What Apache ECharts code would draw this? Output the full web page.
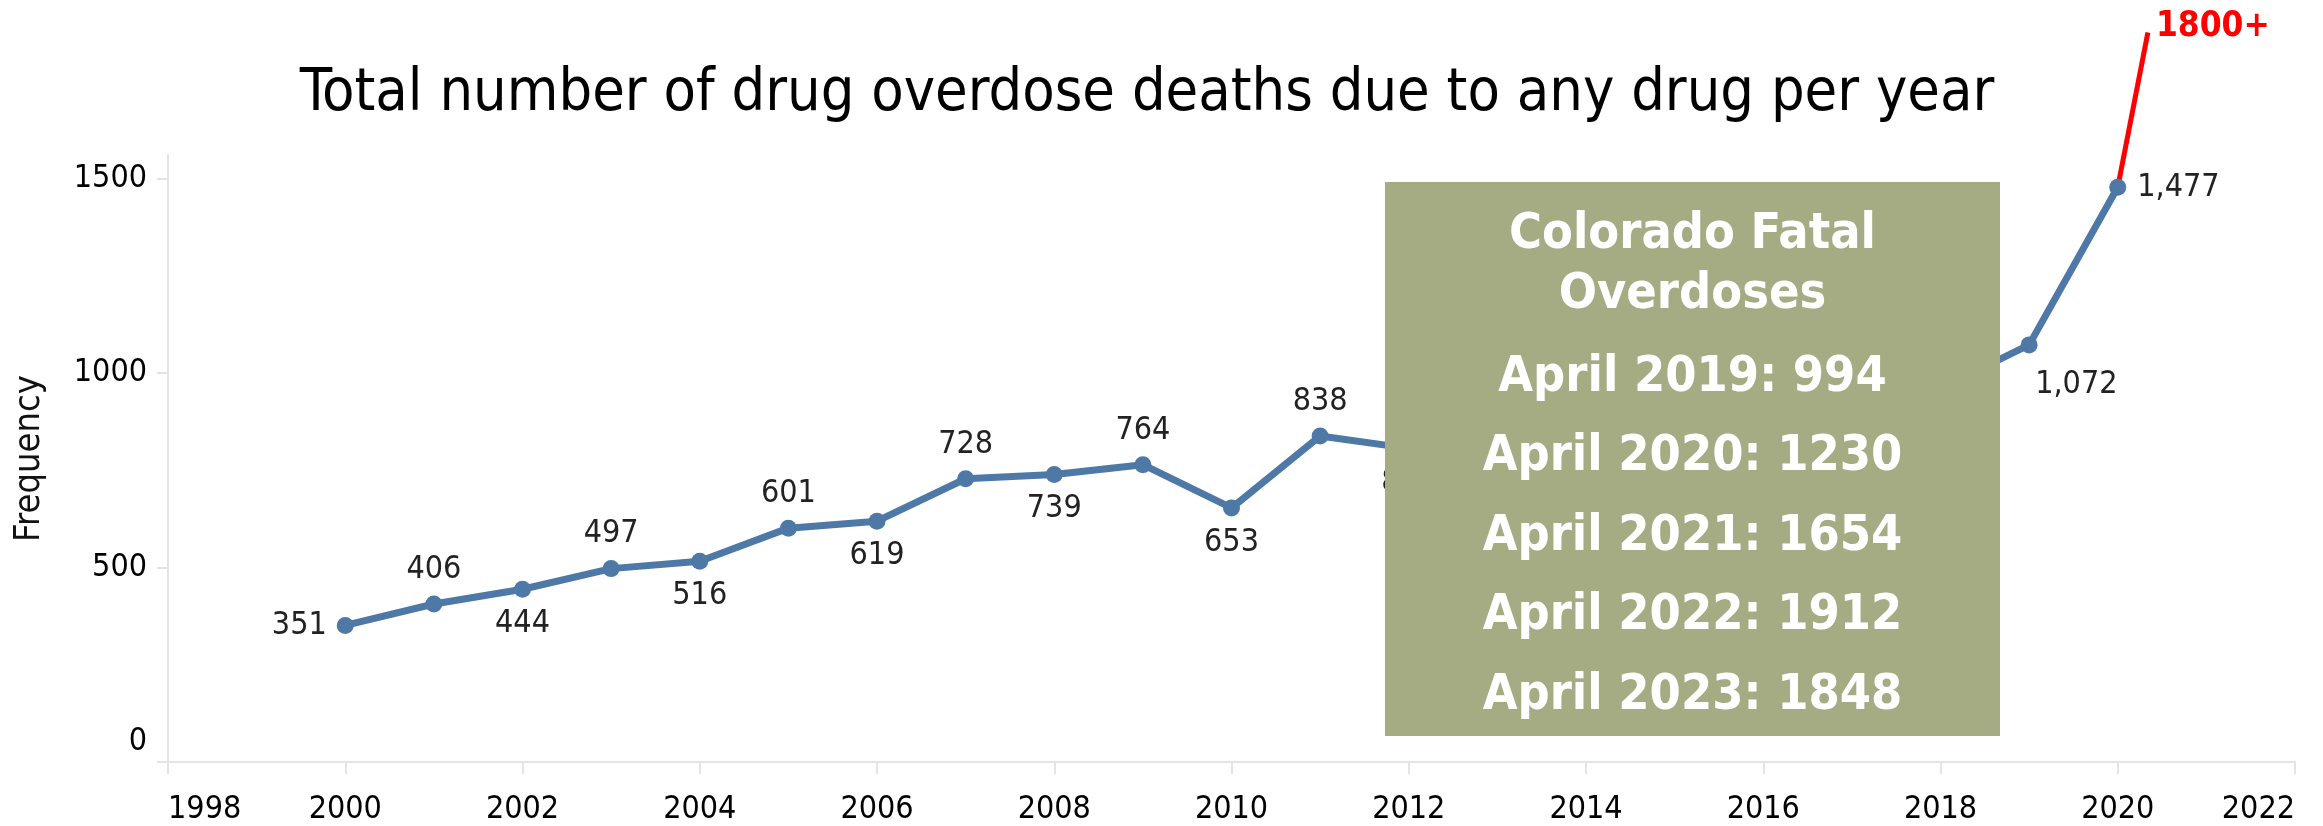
<!DOCTYPE html>
<html>
<head>
<meta charset="utf-8">
<title>Drug overdose deaths per year</title>
<script src="https://cdn.jsdelivr.net/npm/echarts@6/dist/echarts.min.js"></script>
<style>
  html, body { margin: 0; padding: 0; background: #ffffff; }
  #chart { width: 2323px; height: 826px; }
</style>
</head>
<body>
<div id="chart"></div>
<script>
// Yearly totals of drug overdose deaths (any drug)
const years = [2000, 2001, 2002, 2003, 2004, 2005, 2006, 2007, 2008, 2009, 2010,
               2011, 2012, 2013, 2014, 2015, 2016, 2017, 2018, 2019, 2020];
const deaths = [351, 406, 444, 497, 516, 601, 619, 728, 739, 764, 653,
                838, 806, 866, 899, 903, 942, 1012, 960, 1072, 1477];

// Projection line beyond the last recorded year
const projYears = [2020, 2020.34];
const projValues = [1477, 1875];
const projLabel = '1800+';

// Axis ticks
const xTicks = [1998, 2000, 2002, 2004, 2006, 2008, 2010, 2012, 2014, 2016, 2018, 2020, 2022];
const yTicks = [0, 500, 1000, 1500];

// Callout box text
const boxTitle = ['Colorado Fatal', 'Overdoses'];
const aprilYears = [2019, 2020, 2021, 2022, 2023];
const aprilCounts = [994, 1230, 1654, 1912, 1848];

const FONT = '"DejaVu Sans Condensed", "DejaVu Sans", sans-serif';
const BLUE = '#4e79a7';
const AXIS_GREY = '#e4e4e4';

// Where each point label sits relative to its marker
function labelFor(year) {
  if (year === 2000) return { position: 'left', distance: 10 };
  if (year === 2020) return { position: 'right', distance: 11 };
  if (year === 2019) return { position: ['50%', '100%'], align: 'left', verticalAlign: 'top', offset: [6, 15] };
  return { position: (year - 2000) % 2 === 1 ? 'top' : 'bottom', distance: 10 };
}

const fmt = v => v.toLocaleString('en-US');

const lineData = years.map((y, i) => ({
  value: [y, deaths[i]],
  label: labelFor(y)
}));

const projData = projYears.map((y, i) => [y, projValues[i]]);

// Callout graphic
const box = { x: 1385, y: 182, w: 615, h: 554 };
const boxLines = boxTitle.map((t, i) => ({ text: t, cy: box.y + 53 + i * 60 }))
  .concat(aprilYears.map((y, i) => ({
    text: 'April ' + y + ': ' + aprilCounts[i],
    cy: box.y + 196 + i * 79.5
  })));

const chart = echarts.init(document.getElementById('chart'), null, { renderer: 'canvas' });

chart.setOption({
  backgroundColor: '#ffffff',
  animation: false,
  textStyle: { fontFamily: FONT },
  title: {
    text: 'Total number of drug overdose deaths due to any drug per year',
    left: 1142,
    top: 60,
    textAlign: 'center',
    textStyle: { fontFamily: FONT, fontSize: 59, fontWeight: 'normal', color: '#000000' }
  },
  grid: { left: 168, right: 28, top: 155, bottom: 60, containLabel: false },
  xAxis: {
    type: 'value',
    min: xTicks[0],
    max: xTicks[xTicks.length - 1],
    interval: 2,
    axisLine: { show: true, lineStyle: { color: AXIS_GREY, width: 2 } },
    axisTick: { show: true, length: 12, lineStyle: { color: AXIS_GREY, width: 2 } },
    splitLine: { show: false },
    axisLabel: {
      formatter: v => String(v),
      fontFamily: FONT, fontSize: 32, color: '#000000', margin: 32,
      alignMinLabel: 'left', alignMaxLabel: 'right'
    }
  },
  yAxis: {
    type: 'value',
    min: 0,
    max: 1560,
    interval: 500,
    name: 'Frequency',
    nameLocation: 'middle',
    nameGap: 120,
    nameRotate: 90,
    nameTextStyle: { fontFamily: FONT, fontSize: 36, color: '#111111' },
    axisLine: { show: true, lineStyle: { color: AXIS_GREY, width: 2 } },
    axisTick: { show: true, length: 11, customValues: yTicks, lineStyle: { color: AXIS_GREY, width: 2 } },
    splitLine: { show: false },
    axisLabel: {
      customValues: yTicks,
      formatter: v => (v === 0 ? '{z|0}' : String(v)),
      fontFamily: FONT, fontSize: 32, color: '#000000', margin: 21,
      rich: { z: { fontFamily: FONT, fontSize: 32, color: '#000000', padding: [0, 0, 40, 0] } }
    }
  },
  series: [
    {
      name: 'Projection',
      type: 'line',
      data: projData,
      clip: false,
      z: 1,
      symbol: 'none',
      lineStyle: { color: '#ff0000', width: 5 },
      endLabel: {
        show: true,
        formatter: () => projLabel,
        color: '#ff0000',
        fontFamily: FONT,
        fontWeight: 'bold',
        fontSize: 35,
        distance: 8,
        offset: [0, -6]
      }
    },
    {
      name: 'Deaths',
      type: 'line',
      data: lineData,
      z: 2,
      symbol: 'circle',
      symbolSize: 17,
      lineStyle: { color: BLUE, width: 7 },
      itemStyle: { color: BLUE },
      label: {
        show: true,
        formatter: p => fmt(p.value[1]),
        fontFamily: FONT,
        fontSize: 32,
        color: '#222222'
      }
    }
  ],
  graphic: [
    {
      type: 'group',
      z: 100,
      children: [
        {
          type: 'rect',
          z: 100,
          shape: { x: box.x, y: box.y, width: box.w, height: box.h },
          style: { fill: '#a5ab82' }
        }
      ].concat(boxLines.map(l => ({
        type: 'text',
        z: 101,
        x: box.x + box.w / 2,
        y: l.cy,
        style: {
          text: l.text,
          fill: '#ffffff',
          font: 'bold 50px ' + FONT,
          align: 'center',
          verticalAlign: 'middle'
        }
      })))
    }
  ]
});
</script>
</body>
</html>
